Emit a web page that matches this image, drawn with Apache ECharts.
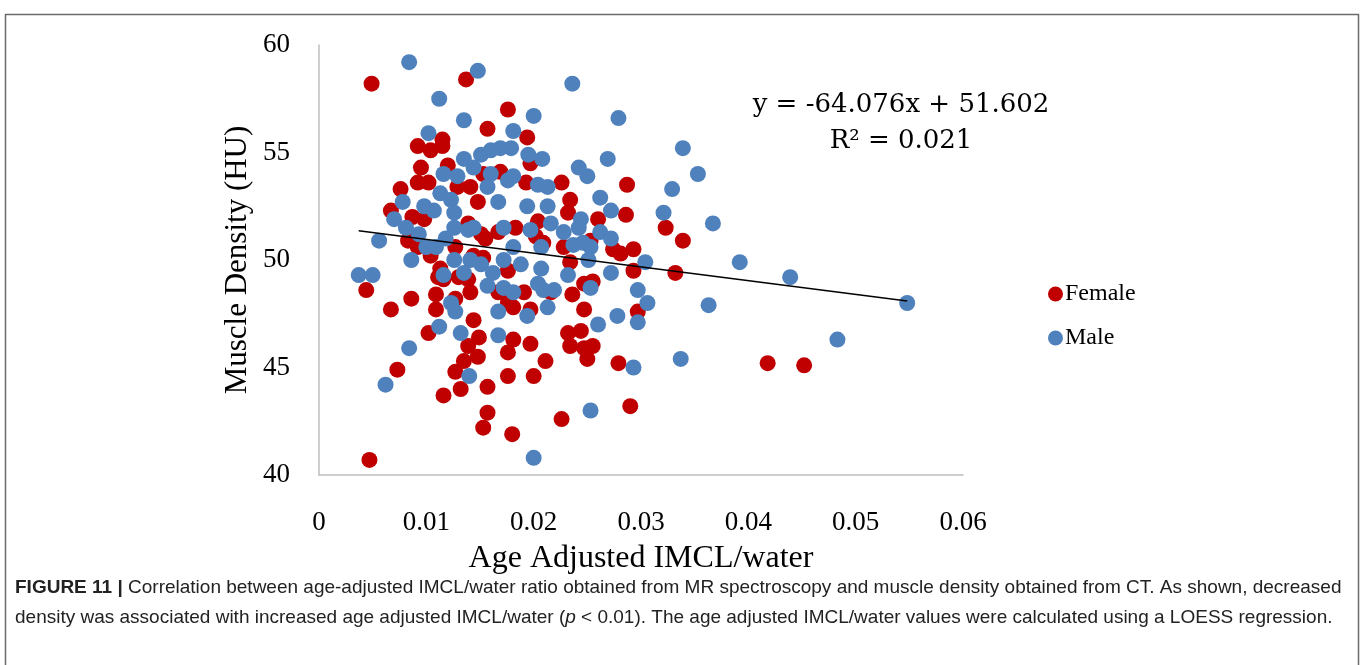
<!DOCTYPE html>
<html>
<head>
<meta charset="utf-8">
<script src="https://cdn.jsdelivr.net/npm/echarts@6/dist/echarts.min.js"></script>
<style>
  html, body { margin: 0; padding: 0; background: #fff; }
  #chart { width: 1360px; height: 665px; }
</style>
</head>
<body>
<div id="chart"></div>
<script>
// points: [IMCL/water, muscle density HU]
const femalePts = [
  [0.0049, 58.2], [0.0137, 58.4], [0.0176, 57.0], [0.0157, 56.1], [0.0092, 55.3], [0.0104, 55.1],
  [0.0115, 55.6], [0.0115, 55.3], [0.0095, 54.3], [0.0120, 54.4], [0.0076, 53.3], [0.0092, 53.6],
  [0.0102, 53.6], [0.0169, 54.1], [0.0153, 54.0], [0.0141, 53.4], [0.0129, 53.4],
  [0.0148, 52.7], [0.0067, 52.3], [0.0087, 52.0], [0.0098, 51.9], [0.0083, 50.9], [0.0092, 50.6],
  [0.0104, 50.2], [0.0139, 51.7], [0.0151, 51.2], [0.0155, 51.0], [0.0167, 51.3], [0.0183, 51.5],
  [0.0113, 49.6], [0.0111, 49.2], [0.0116, 49.1], [0.0130, 49.2], [0.0139, 49.1], [0.0127, 50.6],
  [0.0144, 50.2], [0.0153, 50.1], [0.0167, 48.5], [0.0176, 48.0], [0.0044, 48.6], [0.0086, 48.2],
  [0.0109, 48.4], [0.0141, 48.5], [0.0067, 47.7], [0.0109, 47.7], [0.0144, 47.2], [0.0127, 48.2],
  [0.0181, 47.8],
  [0.0102, 46.6], [0.0149, 46.4], [0.0139, 46.0], [0.0148, 45.5], [0.0135, 45.3], [0.0127, 44.8],
  [0.0073, 44.9], [0.0181, 46.3], [0.0176, 45.7], [0.0176, 44.6], [0.0157, 44.1], [0.0132, 44.0],
  [0.0116, 43.7], [0.0157, 42.9], [0.0153, 42.2], [0.0180, 41.9], [0.0047, 40.7],
  [0.0194, 55.7], [0.0197, 54.5], [0.0193, 53.6], [0.0226, 53.6], [0.0287, 53.5],
  [0.0234, 52.8], [0.0232, 52.2], [0.0260, 51.9], [0.0286, 52.1], [0.0204, 51.8], [0.0202, 51.1],
  [0.0209, 50.8], [0.0228, 50.6], [0.0253, 50.9], [0.0274, 50.5], [0.0281, 50.3], [0.0293, 50.5],
  [0.0293, 49.5], [0.0234, 49.9], [0.0247, 48.9], [0.0255, 49.0], [0.0236, 48.4], [0.0216, 48.5],
  [0.0247, 47.7], [0.0297, 47.6], [0.0176, 49.5], [0.0191, 48.5], [0.0197, 47.7],
  [0.0232, 46.6], [0.0244, 46.7], [0.0234, 46.0], [0.0247, 45.9], [0.0255, 46.0], [0.0250, 45.4],
  [0.0197, 46.1], [0.0211, 45.3], [0.0200, 44.6], [0.0279, 45.2], [0.0290, 43.2], [0.0226, 42.6],
  [0.0323, 51.5], [0.0339, 50.9], [0.0332, 49.4], [0.0418, 45.2], [0.0452, 45.1]
];

const malePts = [
  [0.0084, 59.2], [0.0148, 58.8], [0.0112, 57.5], [0.0135, 56.5], [0.0181, 56.0], [0.0102, 55.9],
  [0.0135, 54.7], [0.0151, 54.9], [0.0160, 55.1], [0.0169, 55.2], [0.0179, 55.2], [0.0144, 54.3],
  [0.0116, 54.0], [0.0129, 53.9], [0.0160, 54.0], [0.0181, 53.9], [0.0157, 53.4],
  [0.0078, 52.7], [0.0070, 51.9], [0.0081, 51.5], [0.0056, 50.9], [0.0086, 50.0], [0.0037, 49.3],
  [0.0050, 49.3], [0.0093, 51.2], [0.0107, 52.3], [0.0098, 52.5], [0.0113, 53.1], [0.0123, 52.8],
  [0.0126, 52.2], [0.0126, 51.5], [0.0139, 51.4], [0.0144, 51.5], [0.0118, 51.0], [0.0109, 50.6],
  [0.0100, 50.6], [0.0167, 52.7], [0.0172, 51.5], [0.0181, 50.6], [0.0126, 50.0], [0.0141, 50.0],
  [0.0151, 49.8], [0.0116, 49.3], [0.0135, 49.4], [0.0162, 49.4], [0.0157, 48.8], [0.0172, 48.7],
  [0.0181, 48.5], [0.0123, 48.0], [0.0127, 47.6], [0.0167, 47.6], [0.0112, 46.9],
  [0.0132, 46.6], [0.0167, 46.5], [0.0084, 45.9], [0.0140, 44.6], [0.0062, 44.2],
  [0.0236, 58.2], [0.0200, 56.7], [0.0279, 56.6], [0.0269, 54.7], [0.0242, 54.3], [0.0250, 53.9],
  [0.0195, 54.9], [0.0208, 54.7], [0.0176, 53.7], [0.0204, 53.5], [0.0213, 53.4], [0.0329, 53.3],
  [0.0339, 55.2], [0.0353, 54.0],
  [0.0194, 52.5], [0.0213, 52.5], [0.0262, 52.9], [0.0272, 52.3], [0.0244, 51.9], [0.0242, 51.5],
  [0.0216, 51.7], [0.0228, 51.3], [0.0197, 51.4], [0.0262, 51.3], [0.0272, 51.0], [0.0237, 50.7],
  [0.0246, 50.8], [0.0253, 50.6], [0.0251, 50.0], [0.0207, 50.6], [0.0172, 50.0], [0.0188, 49.8],
  [0.0207, 49.6], [0.0232, 49.3], [0.0272, 49.4], [0.0304, 49.9], [0.0321, 52.2], [0.0204, 48.9],
  [0.0209, 48.6], [0.0219, 48.6], [0.0253, 48.7], [0.0297, 48.6], [0.0306, 48.0], [0.0213, 47.8],
  [0.0194, 47.4], [0.0278, 47.4], [0.0297, 47.1], [0.0260, 47.0],
  [0.0293, 45.0], [0.0253, 43.0], [0.0200, 40.8],
  [0.0367, 51.7], [0.0392, 49.9], [0.0439, 49.2], [0.0548, 48.0], [0.0363, 47.9], [0.0483, 46.3],
  [0.0337, 45.4]
];

// fitted line as printed on the chart
const slope = -64.076;
const intercept = 51.602;
const r2 = 0.021;
const fitRange = [0.0037, 0.0548];
const fitPts = fitRange.map(x => [x, slope * x + intercept]);

const chart = echarts.init(document.getElementById("chart"));

const serif = "'Liberation Serif', 'Times New Roman', serif";
const sans = "'Liberation Sans', Arial, sans-serif";

chart.setOption({
  backgroundColor: "#fff",
  animation: false,
  grid: {
    left: 319,
    right: 397,
    top: 45,
    bottom: 190
  },
  legend: {
    orient: "vertical",
    left: 1043,
    top: 277,
    itemWidth: 15,
    itemHeight: 15,
    itemGap: 20,
    icon: "circle",
    data: ["Female", "Male"],
    textStyle: {
      color: "#000",
      fontFamily: serif,
      fontSize: 24,
      padding: [0, 0, 0, -3]
    }
  },
  xAxis: {
    type: "value",
    min: 0,
    max: 0.06,
    interval: 0.01,
    name: "Age Adjusted IMCL/water",
    nameLocation: "middle",
    nameGap: 68,
    nameTextStyle: { color: "#000", fontFamily: serif, fontSize: 32 },
    splitLine: { show: false },
    axisTick: { show: false },
    axisLine: { lineStyle: { color: "#bfbfbf", width: 1.5 } },
    axisLabel: {
      color: "#000",
      fontFamily: serif,
      fontSize: 27,
      margin: 34,
      formatter: v => String(+v.toFixed(2))
    }
  },
  yAxis: {
    type: "value",
    min: 40,
    max: 60,
    interval: 5,
    name: "Muscle Density (HU)",
    nameLocation: "middle",
    nameGap: 66,
    nameTextStyle: { color: "#000", fontFamily: serif, fontSize: 31 },
    splitLine: { show: false },
    axisTick: { show: false },
    axisLine: { show: true, lineStyle: { color: "#bfbfbf", width: 1.5 } },
    axisLabel: { color: "#000", fontFamily: serif, fontSize: 27, margin: 29 }
  },
  series: [
    {
      name: "Female",
      type: "scatter",
      symbol: "circle",
      symbolSize: 16,
      itemStyle: { color: "#c00000", opacity: 1 },
      data: femalePts
    },
    {
      name: "Male",
      type: "scatter",
      symbol: "circle",
      symbolSize: 16,
      itemStyle: { color: "#4f81bd", opacity: 1 },
      data: malePts
    },
    {
      name: "Linear (All)",
      type: "line",
      showSymbol: false,
      silent: true,
      lineStyle: { color: "#000", width: 1.5 },
      data: fitPts,
      z: 5
    }
  ],
  graphic: [
    {
      type: "rect",
      left: 3,
      top: 12,
      shape: { width: 1353, height: 700 },
      style: { fill: "none", stroke: "#6b6b6b", lineWidth: 1.5 },
      silent: true
    },
    {
      type: "text",
      x: 901,
      y: 105,
      style: {
        text: "y = " + slope.toFixed(3) + "x + " + intercept.toFixed(3),
        fill: "#000",
        font: "26px 'DejaVu Serif', serif",
        align: "center",
        verticalAlign: "middle"
      }
    },
    {
      type: "text",
      x: 901,
      y: 141,
      style: {
        text: "R\u00b2 = " + r2.toFixed(3),
        fill: "#000",
        font: "26px 'DejaVu Serif', serif",
        align: "center",
        verticalAlign: "middle"
      }
    },
    {
      type: "text",
      x: 15,
      y: 573,
      style: {
        text: "{b|FIGURE 11 |} Correlation between age-adjusted IMCL/water ratio obtained from MR spectroscopy and muscle density obtained from CT. As shown, decreased\n" +
              "density was associated with increased age adjusted IMCL/water ({i|p} < 0.01). The age adjusted IMCL/water values were calculated using a LOESS regression.",
        fill: "#222",
        font: "19px " + sans,
        lineHeight: 30,
        rich: {
          b: { fontWeight: "bold", fontSize: 19, fontFamily: sans, fill: "#222", lineHeight: 30 },
          i: { fontStyle: "italic", fontSize: 19, fontFamily: sans, fill: "#222", lineHeight: 30 }
        }
      }
    }
  ]
});
</script>
</body>
</html>
